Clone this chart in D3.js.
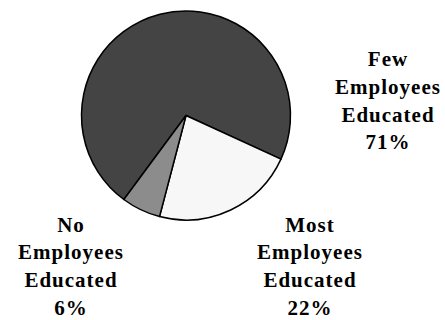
<!DOCTYPE html>
<html>
<head>
<meta charset="utf-8">
<script src="https://cdn.jsdelivr.net/npm/d3@7"></script>
<style>
  body { margin: 0; background: #fff; }
  svg { display: block; }
</style>
</head>
<body>
<div id="chart"></div>
<script>
const width = 445;
const height = 320;

// data
const categories = ["Few Employees Educated", "Most Employees Educated", "No Employees Educated"];
const values = [71, 22, 6];
const colors = ["#444444", "#f7f7f7", "#8c8c8c"];
const labelLines = [
  ["Few", "Employees", "Educated", "71%"],
  ["Most", "Employees", "Educated", "22%"],
  ["No", "Employees", "Educated", "6%"]
];
// label anchor (centre x, first baseline y)
const labelPos = [[388, 66], [310, 231.5], [71, 231.5]];

const cx = 186, cy = 115.5, r = 104.5;

const svg = d3.select("#chart")
  .append("svg")
  .attr("width", width)
  .attr("height", height);

const pie = d3.pie()
  .sort(null)
  .value(d => d)
  .startAngle(216.5 * Math.PI / 180)
  .endAngle((216.5 + 360) * Math.PI / 180);

const arc = d3.arc().innerRadius(0).outerRadius(r);

const g = svg.append("g").attr("transform", `translate(${cx},${cy})`);

g.selectAll("path")
  .data(pie(values))
  .enter()
  .append("path")
  .attr("d", arc)
  .attr("fill", (d, i) => colors[i])
  .attr("stroke", "#000")
  .attr("stroke-width", 1.5)
  .attr("stroke-linejoin", "round");

// labels
labelLines.forEach((lines, i) => {
  const t = svg.append("text")
    .attr("font-family", "'Liberation Serif', 'Times New Roman', 'DejaVu Serif', serif")
    .attr("font-weight", "bold")
    .attr("font-size", 21)
    .attr("letter-spacing", 1)
    .attr("fill", "#000")
    .attr("text-anchor", "middle");
  lines.forEach((s, j) => {
    t.append("tspan")
      .attr("x", labelPos[i][0])
      .attr("y", labelPos[i][1] + j * 27.8)
      .text(s);
  });
});
</script>
</body>
</html>
